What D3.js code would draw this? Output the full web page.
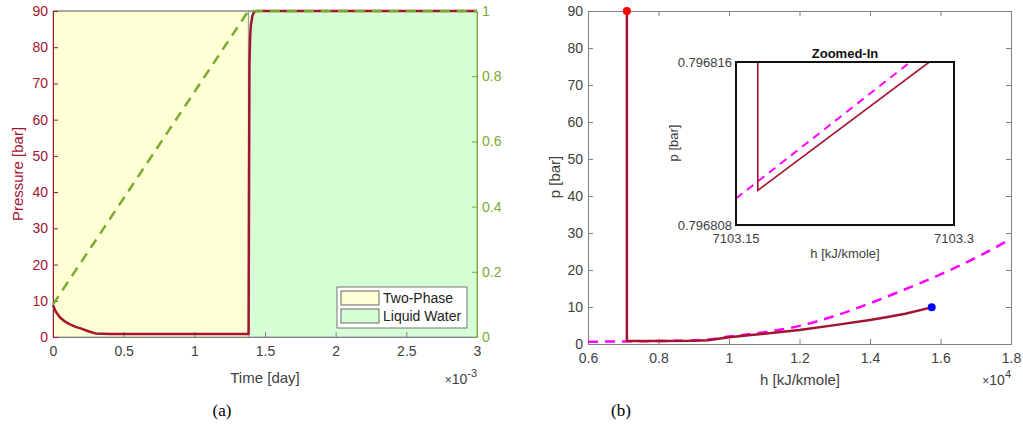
<!DOCTYPE html>
<html>
<head>
<meta charset="utf-8">
<script src="https://cdn.jsdelivr.net/npm/d3@7"></script>
<style>
  body { margin: 0; background: #fff; }
  svg { display: block; font-family: "Liberation Sans", Arial, sans-serif; }
  .tick text { font-size: 14px; }
</style>
</head>
<body>
<div id="chart"></div>
<script>
// ---- panel (a): pressure and phase vs time (x 1e-3 day)
const pressTime = [0, 0.02, 0.05, 0.08, 0.12, 0.16, 0.2, 0.25, 0.3, 0.4, 0.6, 1.0, 1.384, 1.387, 1.39, 1.395, 1.40, 1.41, 1.42, 1.44, 3.0];
const pressBar  = [8.8, 7.0, 5.4, 4.4, 3.5, 2.8, 2.3, 1.6, 1.0, 0.85, 0.8, 0.8, 0.8, 40, 75, 83, 86, 88.5, 89.6, 90, 90];
const fracTime = [0, 1.382, 3];
const fracVal  = [0.1, 1, 1];
const phaseNames = ['Two-Phase', 'Liquid Water'];
const phaseFrom  = [0, 1.382];
const phaseTo    = [1.382, 3];
const phaseFill  = ['#ffffd6', '#d6ffd6'];
const timeTicks  = [0, 0.5, 1, 1.5, 2, 2.5, 3];
const pressTicks = [0, 10, 20, 30, 40, 50, 60, 70, 80, 90];
const fracTicks  = [0, 0.2, 0.4, 0.6, 0.8, 1];

// ---- panel (b): p-h path (h in 1e4 kJ/kmole)
const pathH = [0.7103, 0.7103, 0.8, 0.9, 0.94, 1.0, 1.1, 1.2, 1.3, 1.4, 1.45, 1.5, 1.575];
const pathP = [90, 0.8, 0.8, 0.85, 1.0, 1.8, 2.8, 3.8, 5.1, 6.5, 7.3, 8.2, 9.9];
const satH = [0.6, 0.7, 0.8, 0.9, 0.95, 1.0, 1.1, 1.2, 1.3, 1.4, 1.5, 1.6, 1.7, 1.8];
const satP = [0.6, 0.7, 0.8, 1.0, 1.3, 2.0, 3.2, 4.9, 7.6, 11.0, 14.8, 18.8, 23.3, 28.4];
const startPt = [0.7103, 90];
const endPt = [1.575, 9.9];
const hTicks = [0.6, 0.8, 1, 1.2, 1.4, 1.6, 1.8];
const pTicks = [0, 10, 20, 30, 40, 50, 60, 70, 80, 90];

// ---- inset (zoomed-in)
const zoomPathH = [7103.165, 7103.165, 7103.283];
const zoomPathP = [0.796816, 0.7968097, 0.796816];
const zoomSatH = [7103.15, 7103.27];
const zoomSatP = [0.7968093, 0.796816];

const RED = '#a2142f', GREEN = '#77ac30', TXT = '#404040', AX = '#808080';

const svg = d3.select('#chart').append('svg')
  .attr('width', 1023).attr('height', 438);

function styleAxis(g, color, textColor) {
  g.select('.domain').attr('stroke', color);
  g.selectAll('.tick line').attr('stroke', color);
  g.selectAll('.tick text').attr('fill', textColor).attr('font-size', 14);
}

// ================= panel (a)
const xa = d3.scaleLinear().domain([0, 3]).range([53, 477]);
const ya = d3.scaleLinear().domain([0, 90]).range([337, 11]);
const yf = d3.scaleLinear().domain([0, 1]).range([337, 11]);

const ga = svg.append('g');
ga.selectAll('rect.phase')
  .data(phaseNames)
  .enter().append('rect')
  .attr('class', 'phase')
  .attr('x', (d, i) => xa(phaseFrom[i]))
  .attr('y', ya(90))
  .attr('width', (d, i) => xa(phaseTo[i]) - xa(phaseFrom[i]))
  .attr('height', ya(0) - ya(90))
  .attr('fill', (d, i) => phaseFill[i])
  .attr('stroke', '#8a8a8a').attr('stroke-width', 0.8);

// top edge
ga.append('line').attr('x1', xa(0)).attr('x2', xa(3)).attr('y1', ya(90)).attr('y2', ya(90))
  .attr('stroke', AX);

ga.append('g').attr('transform', `translate(0,${ya(0)})`)
  .call(d3.axisBottom(xa).tickValues(timeTicks).tickSize(-5).tickSizeOuter(0).tickPadding(9)
    .tickFormat(d3.format('')))
  .call(g => styleAxis(g, AX, TXT));
ga.append('g').attr('transform', `translate(${xa(0)},0)`)
  .call(d3.axisLeft(ya).tickValues(pressTicks).tickSize(-5).tickSizeOuter(0).tickPadding(5))
  .call(g => styleAxis(g, RED, RED));
ga.append('g').attr('transform', `translate(${xa(3)},0)`)
  .call(d3.axisRight(yf).tickValues(fracTicks).tickSize(-5).tickSizeOuter(0).tickPadding(5)
    .tickFormat(d3.format('')))
  .call(g => styleAxis(g, GREEN, GREEN));

const lineA = d3.line().x(d => xa(d[0])).y(d => ya(d[1]));
const lineF = d3.line().x(d => xa(d[0])).y(d => yf(d[1]));

ga.append('path')
  .datum(pressTime.map((t, i) => [t, pressBar[i]]))
  .attr('d', lineA).attr('fill', 'none')
  .attr('stroke', RED).attr('stroke-width', 2.5).attr('stroke-linejoin', 'round');

ga.append('path')
  .datum(fracTime.map((t, i) => [t, fracVal[i]]))
  .attr('d', lineF).attr('fill', 'none')
  .attr('stroke', GREEN).attr('stroke-width', 2.5).attr('stroke-dasharray', '10,7');

// legend
const lg = ga.append('g').attr('transform', 'translate(337,287)');
lg.append('rect').attr('width', 130).attr('height', 41)
  .attr('fill', '#fff').attr('stroke', '#555').attr('stroke-width', 0.8);
const items = lg.selectAll('g.item').data(phaseNames).enter().append('g')
  .attr('class', 'item')
  .attr('transform', (d, i) => `translate(4,${4 + i * 18})`);
items.append('rect').attr('width', 38).attr('height', 14)
  .attr('fill', (d, i) => phaseFill[i]).attr('stroke', '#444').attr('stroke-width', 0.8);
items.append('text').attr('x', 42).attr('y', 12)
  .attr('font-size', 14).attr('fill', '#222').text(d => d);

ga.append('text').attr('x', 265).attr('y', 383).attr('text-anchor', 'middle')
  .attr('font-size', 15).attr('fill', TXT).text('Time [day]');
ga.append('text').attr('transform', `translate(23,174) rotate(-90)`).attr('text-anchor', 'middle')
  .attr('font-size', 15).attr('fill', RED).text('Pressure [bar]');
const ea = ga.append('text').attr('x', 477).attr('y', 384).attr('text-anchor', 'end')
  .attr('font-size', 14).attr('fill', TXT);
ea.append('tspan').text('\u00d7').attr('font-size', 12);
ea.append('tspan').text('10');
ea.append('tspan').text('-3').attr('font-size', 11).attr('dy', -7);

ga.append('text').attr('x', 222).attr('y', 416).attr('text-anchor', 'middle')
  .attr('font-family', '"Liberation Serif", "Times New Roman", serif')
  .attr('font-size', 17).attr('fill', '#000').text('(a)');

// ================= panel (b)
const xb = d3.scaleLinear().domain([0.6, 1.8]).range([588, 1011]);
const yb = d3.scaleLinear().domain([0, 90]).range([344, 11]);
const gb = svg.append('g');

gb.append('g').attr('transform', `translate(0,${yb(0)})`)
  .call(d3.axisBottom(xb).tickValues(hTicks).tickSize(-5).tickSizeOuter(0).tickPadding(9)
    .tickFormat(d3.format('')))
  .call(g => styleAxis(g, AX, TXT));
gb.append('g').attr('transform', `translate(0,${yb(90)})`)
  .call(d3.axisTop(xb).tickValues(hTicks).tickSize(-5).tickSizeOuter(0).tickFormat(''))
  .call(g => styleAxis(g, AX, TXT));
gb.append('g').attr('transform', `translate(${xb(0.6)},0)`)
  .call(d3.axisLeft(yb).tickValues(pTicks).tickSize(-5).tickSizeOuter(0).tickPadding(5))
  .call(g => styleAxis(g, AX, TXT));
gb.append('g').attr('transform', `translate(${xb(1.8)},0)`)
  .call(d3.axisRight(yb).tickValues(pTicks).tickSize(-5).tickSizeOuter(0).tickFormat(''))
  .call(g => styleAxis(g, AX, TXT));

const clip = svg.append('clipPath').attr('id', 'clipb');
clip.append('rect').attr('x', xb(0.6)).attr('y', yb(90) - 6)
  .attr('width', xb(1.8) - xb(0.6)).attr('height', yb(0) - yb(90) + 6);

const lineB = d3.line().x(d => xb(d[0])).y(d => yb(d[1]));
gb.append('path')
  .datum(satH.map((h, i) => [h, satP[i]]))
  .attr('d', lineB.curve(d3.curveMonotoneX)).attr('fill', 'none')
  .attr('clip-path', 'url(#clipb)')
  .attr('stroke', '#ff00ff').attr('stroke-width', 2.5).attr('stroke-dasharray', '10,7');
gb.append('path')
  .datum(pathH.map((h, i) => [h, pathP[i]]))
  .attr('d', d3.line().x(d => xb(d[0])).y(d => yb(d[1]))).attr('fill', 'none')
  .attr('stroke', RED).attr('stroke-width', 2.5).attr('stroke-linejoin', 'round');

gb.append('circle').attr('cx', xb(startPt[0])).attr('cy', yb(startPt[1])).attr('r', 4)
  .attr('fill', '#ff0000');
gb.append('circle').attr('cx', xb(endPt[0])).attr('cy', yb(endPt[1])).attr('r', 4)
  .attr('fill', '#0000ff');

gb.append('text').attr('x', 800).attr('y', 385).attr('text-anchor', 'middle')
  .attr('font-size', 15).attr('fill', TXT).text('h [kJ/kmole]');
gb.append('text').attr('transform', `translate(560,177) rotate(-90)`).attr('text-anchor', 'middle')
  .attr('font-size', 15).attr('fill', TXT).text('p [bar]');
const eb = gb.append('text').attr('x', 1011).attr('y', 385).attr('text-anchor', 'end')
  .attr('font-size', 14).attr('fill', TXT);
eb.append('tspan').text('\u00d7').attr('font-size', 12);
eb.append('tspan').text('10');
eb.append('tspan').text('4').attr('font-size', 11).attr('dy', -7);

gb.append('text').attr('x', 621).attr('y', 416).attr('text-anchor', 'middle')
  .attr('font-family', '"Liberation Serif", "Times New Roman", serif')
  .attr('font-size', 17).attr('fill', '#000').text('(b)');

// ================= inset
const xi = d3.scaleLinear().domain([7103.15, 7103.3]).range([736, 954]);
const yi = d3.scaleLinear().domain([0.796808, 0.796816]).range([225, 62]);
const gi = svg.append('g');
gi.append('rect').attr('x', xi(7103.15)).attr('y', yi(0.796816))
  .attr('width', xi(7103.3) - xi(7103.15)).attr('height', yi(0.796808) - yi(0.796816))
  .attr('fill', '#fff');
const clipi = svg.append('clipPath').attr('id', 'clipi');
clipi.append('rect').attr('x', xi(7103.15)).attr('y', yi(0.796816))
  .attr('width', xi(7103.3) - xi(7103.15)).attr('height', yi(0.796808) - yi(0.796816));

const lineI = d3.line().x(d => xi(d[0])).y(d => yi(d[1]));
gi.append('path')
  .datum(zoomSatH.map((h, i) => [h, zoomSatP[i]]))
  .attr('d', lineI).attr('fill', 'none').attr('clip-path', 'url(#clipi)')
  .attr('stroke', '#ff00ff').attr('stroke-width', 2).attr('stroke-dasharray', '8,6');
gi.append('path')
  .datum(zoomPathH.map((h, i) => [h, zoomPathP[i]]))
  .attr('d', lineI).attr('fill', 'none').attr('clip-path', 'url(#clipi)')
  .attr('stroke', RED).attr('stroke-width', 1.6);

gi.append('rect').attr('x', xi(7103.15)).attr('y', yi(0.796816))
  .attr('width', xi(7103.3) - xi(7103.15)).attr('height', yi(0.796808) - yi(0.796816))
  .attr('fill', 'none').attr('stroke', '#111').attr('stroke-width', 2);

gi.selectAll('text.ylab').data([0.796808, 0.796816]).enter().append('text')
  .attr('class', 'ylab')
  .attr('x', xi(7103.15) - 4).attr('y', d => yi(d) + 5)
  .attr('text-anchor', 'end').attr('font-size', 13).attr('fill', TXT)
  .text(d => d3.format('.6f')(d));
gi.selectAll('text.xlab').data([7103.15, 7103.3]).enter().append('text')
  .attr('class', 'xlab')
  .attr('x', d => xi(d)).attr('y', yi(0.796808) + 18)
  .attr('text-anchor', 'middle').attr('font-size', 13).attr('fill', TXT)
  .text(d => d);
gi.append('text').attr('x', 845).attr('y', 58).attr('text-anchor', 'middle')
  .attr('font-size', 13).attr('font-weight', 'bold').attr('fill', '#111').text('Zoomed-In');
gi.append('text').attr('x', 845).attr('y', 258).attr('text-anchor', 'middle')
  .attr('font-size', 13).attr('fill', TXT).text('h [kJ/kmole]');
gi.append('text').attr('transform', `translate(678,143) rotate(-90)`).attr('text-anchor', 'middle')
  .attr('font-size', 13).attr('fill', TXT).text('p [bar]');
</script>
</body>
</html>
